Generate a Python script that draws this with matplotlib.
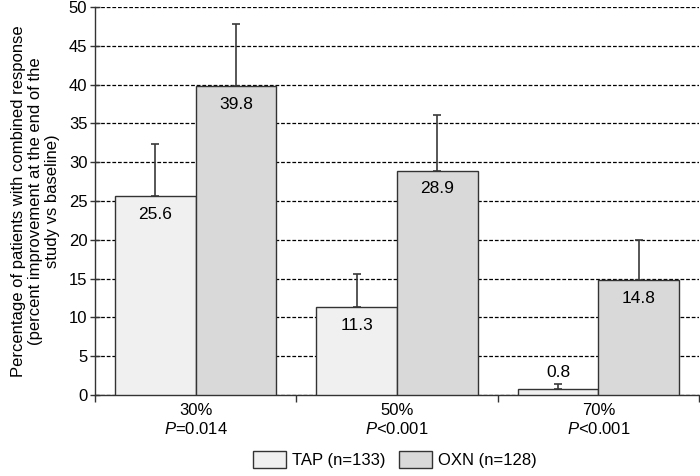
import numpy as np
import matplotlib
matplotlib.use("Agg")
import matplotlib.pyplot as plt
from matplotlib.patches import Patch

plt.rcParams['font.family'] = ['Liberation Sans', 'DejaVu Sans']
plt.rcParams['mathtext.fontset'] = 'custom'
plt.rcParams['mathtext.rm'] = 'Liberation Sans'
plt.rcParams['mathtext.it'] = 'Liberation Sans:italic'

categories = ["30%", "50%", "70%"]
p_values = [r"$\it{P}$=0.014", r"$\it{P}$<0.001", r"$\it{P}$<0.001"]
tap = [25.6, 11.3, 0.8]
oxn = [39.8, 28.9, 14.8]
tap_err = [6.7, 4.3, 0.6]
oxn_err = [8.0, 7.2, 5.2]
legend_labels = ["TAP (n=133)", "OXN (n=128)"]

tap_color = "#f0f0f0"
oxn_color = "#d9d9d9"
edge = "#333333"

fig = plt.figure(figsize=(7, 4.76), dpi=100)
ax = fig.add_axes([0.1357, 0.1702, 0.863, 0.8151])

x = np.arange(len(categories))
w = 0.4
ax.bar(x - w/2, tap, w, color=tap_color, edgecolor=edge, linewidth=1.0, zorder=3)
ax.bar(x + w/2, oxn, w, color=oxn_color, edgecolor=edge, linewidth=1.0, zorder=3)
ax.errorbar(x - w/2, tap, yerr=[np.zeros(3), tap_err], fmt='none', ecolor="#3a3a3a",
            elinewidth=1.2, capsize=3.2, capthick=1.2, zorder=2)
ax.errorbar(x + w/2, oxn, yerr=[np.zeros(3), oxn_err], fmt='none', ecolor="#3a3a3a",
            elinewidth=1.2, capsize=3.2, capthick=1.2, zorder=2)

for xi, v in zip(x - w/2, tap):
    off = -13 if v > 5 else 11.5
    ax.annotate(f"{v}", (xi, v), xytext=(0, off), textcoords="offset points",
                ha="center", va="center", fontsize=12.5, zorder=4)
for xi, v in zip(x + w/2, oxn):
    ax.annotate(f"{v}", (xi, v), xytext=(0, -13), textcoords="offset points",
                ha="center", va="center", fontsize=12.5, zorder=4)

ax.set_xlim(-0.5, 2.5)
ax.set_ylim(0, 50)
ax.set_yticks(np.arange(0, 51, 5))
ax.tick_params(axis='y', labelsize=12, direction='inout', length=7, width=1, color=edge, pad=2)
ax.yaxis.grid(True, linestyle=(0, (3, 1.5)), color="black", linewidth=0.9)
ax.set_axisbelow(True)

ax.set_xticks([-0.5, 0.5, 1.5, 2.5])
ax.set_xticklabels([])
ax.tick_params(axis='x', direction='out', length=5, width=1, color=edge)
for xi, c, p in zip(x, categories, p_values):
    ax.text(xi, -0.0215, c, transform=ax.get_xaxis_transform(), ha="center", va="top", fontsize=12)
    ax.text(xi, -0.0675, p, transform=ax.get_xaxis_transform(), ha="center", va="top", fontsize=12)

for s in ["top", "right"]:
    ax.spines[s].set_visible(False)
for s in ["left", "bottom"]:
    ax.spines[s].set_color(edge)
    ax.spines[s].set_linewidth(1.0)

ax.set_ylabel("Percentage of patients with combined response\n(percent improvement at the end of the\nstudy vs baseline)",
              fontsize=12, linespacing=1.2, labelpad=6)

handles = [Patch(facecolor=tap_color, edgecolor=edge), Patch(facecolor=oxn_color, edgecolor=edge)]
fig.legend(handles, legend_labels, loc="center", bbox_to_anchor=(0.564, 0.034), ncol=2,
           frameon=False, fontsize=12, handlelength=2.0, handleheight=1.2, columnspacing=0.8,
           handletextpad=0.35)

fig.savefig("out.png", dpi=100)
